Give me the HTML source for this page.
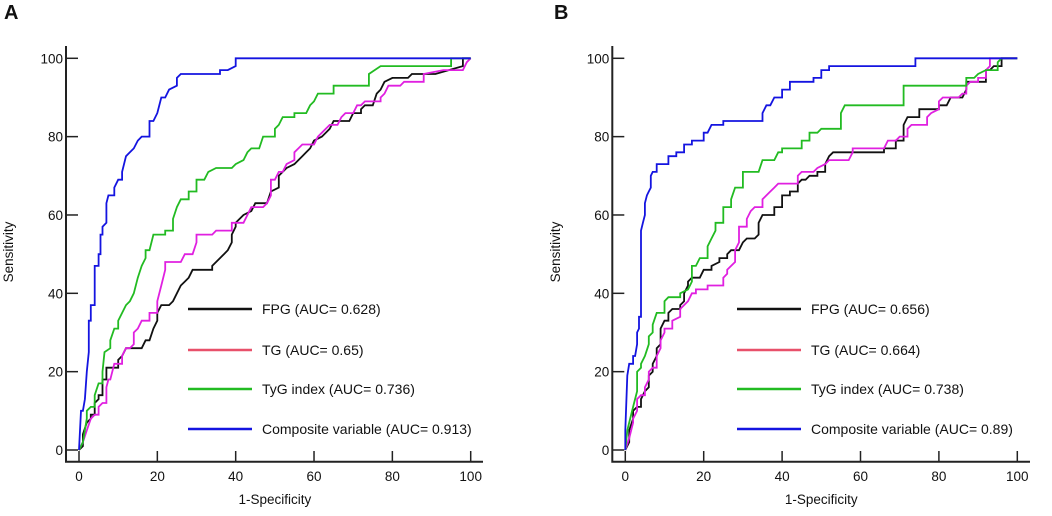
<!DOCTYPE html>
<html><head><meta charset="utf-8"><style>
body{margin:0;background:#fff;}
svg text{font-family:"Liberation Sans",Arial,sans-serif;fill:#111;}
</style></head><body>
<svg id="s" width="1052" height="511" viewBox="0 0 1052 511"></svg>
<script>
const xTicks=[0,20,40,60,80,100];
const yTicks=[0,20,40,60,80,100];
const seriesNames=["FPG","TG","TyG index","Composite variable"];
const aucA=["0.628","0.65","0.736","0.913"];
const aucB=["0.656","0.664","0.738","0.89"];
const colors=["#111111","#e020e0","#22bb22","#1414e0"];
const legendColors=["#111111","#e8506a","#22bb22","#1414e0"];
const fpgA=[0,0,1,1,1,4,2,7,3,8,3,9,4,9,4,12,5,13,5,14,6,14,6,18,7,18,7,21,10,21,10,23,11,24,12,26,16,26,17,28,18,28,19,31,20,33,20,35,21,37,23,37,24,38,25,40,26,42,27,43,28,44,29,46,34,46,34,47,35,48,36,49,37,50,38,51,39,53,39,55,40,57,40,58,41,59,42,60,44,61,45,63,48,63,49,66,51,67,51,70,52,71,53,72,55,73,57,75,58,76,59,77,60,79,62,80,63,81,64,82,65,84,69,84,70,86,72,86,72,87,73,88,75,88,76,91,77,92,78,94,80,95,84,95,85,96,91,96,98,98,98,100,100,100];
const tgA=[0,0,1,2,2,5,3,8,4,9,5,9,5,11,6,12,7,12,7,16,7.5,18,8,18,9,22,11,22,11,24,12,26,13,26,14,27,14,30,15,31,16,33,18,33,18,35,20,35,20,38,21,42,22,46,22,48,26,48,27,50,29,50,30,53,30,55,34,55,35,56,39,56,39,58,42,58,43,60,44,62,47,62,48,63,49,65,49,69,50,69,51,71,52,71,53,73,55,74,55,76,56,77,57,78,60,78,61,80,62,81,63,82,64,83,66,83,67,85,68,86,70,86,71,88,72,88,73,89,77,89,77,90,78,91,79,93,82,93,83,94,88,94,88,96,93,97,98,97,99,99,100,100];
const tygA=[0,0,1,2,2,8,2,10,3,11,4,11,4,14,5,17,6,17,6,20,6.5,25,8,26,8,28,9,31,10,31,10,33,12,37,13,38,14,40,15,44,16,47,17,49,17,51,18,51,19,55,22,55,22,56,24,56,24,59,25,62,26,64,28,64,28,66,30,66,30,69,32,69,33,71,35,72,39,72,40,73,42,74,43,76,44,77,46,77,47,80,50,80,50,82,51,83,52,85,55,85,55,86,58,86,59,88,60,89,61,91,65,91,65,93,74,93,74,96,77,98,95,98,95,100,100,100];
const compA=[0,0,0.5,10,1,10,1.5,13,2,20,2.5,25,2.5,33,3,33,3,37,4,37,4,41,4,47,5,47,5,50,5.5,50,5.5,55,6,55,6,57,7,58,7,63,7.5,65,9,65,9,67,10,69,11,69,11,71,12,75,13,76,14,77,15,79,16,80,18,80,18,84,19,84,20,86,21,90,22,90,23,92,25,93,25,95,26,96,36,96,36,97,38,97,40,98,40,100,100,100];
const fpgB=[0,0,1,2,1,5,2,8,2,10,3,11,4,11,4,13,5,15,6,16,6,19,7,20,7,22,8,24,8,26,9,27,9,31,10,33,11,33,11,35,12,36,14,36,14,37,15,38,15,40,16,42,16,43,17,44,19,44,20,46,22,46,22,47,24,48,24,49,26,49,26,50,27,51,29,51,30,53,31,54,33,54,34,55,34,58,35,60,38,60,38,62,40,62,40,65,42,65,42,66,44,66,44,68,45,69,46,69,47,70,49,70,49,71,51,71,51,73,52,75,53,76,66,76,66,77,69,77,69,79,71,79,71,83,72,85,75,85,75,87,80,87,80,88,82,88,83,90,86,90,87,92,87,94,92,94,92,97,93,97,94,98,96,98,96,100,100,100];
const tgB=[0,0,1,3,2,7,2,8,3,10,3,13,4,14,5,14,5,16,6,18,6,20,7,21,8,21,8,24,9,26,9,28,10,30,10,31,12,31,12,33,14,34,14,36,15,37,16,38,17,40,18,40,18,41,21,41,21,42,25,42,25,44,26,45,26,46,27,47,28,48,28,51,29,53,29,57,31,57,31,59,32,61,33,62,35,62,35,64,36,65,37,66,38,67,39,68,44,68,44,70,45,71,48,71,49,72,51,73,52,74,57,74,58,76,58,77,66,77,67,79,69,79,70,80,72,80,72,82,73,83,77,83,77,85,78,86,80,87,80,89,81,90,85,90,86,91,87,91,87,93,88,94,90,94,90,95,92,95,92,97,93,98,93,100,100,100];
const tygB=[0,0,0.5,5,1,7,2,11,3,15,3,20,4,21,4,22,5,24,6,27,6,29,7,30,7,32,8,35,10,35,10,38,11,39,14,39,14,40,16,41,17,43,17,47,18,47,19,49,21,49,21,52,22,54,23,56,23,58,25,58,25,62,27,62,27,64,28,67,30,67,30,71,34,71,35,74,38,74,39,76,40,76,40,77,45,77,45,79,47,79,47,81,49,81,50,82,55,82,55,86,56,88,71,88,71,93,87,93,87,95,89,95,90,96,92,97,95,97,95,99,96,100,100,100];
const compB=[0,0,0,5,0.5,19,1,22,2,22,2,24,2.5,24,3,27,3,30,3.5,31,3.5,34,4,34,4,40,4,47,4,56,4.5,58,5,60,5,63,5.5,65,6,66,6.5,67,6.5,70,7,71,8,71,8,73,11,73,11,75,13,75,13,76,15,76,15,78,17,78,17,79,20,79,20,81,21,81,22,83,25,83,25,84,35,84,35,86,36,88,37,88,38,90,40,90,40,92,42,92,42,94,48,94,48,95,50,95,50,97,52,97,52,98,74,98,74,100,100,100];

const NS="http://www.w3.org/2000/svg";
const svg=document.getElementById('s');
function mk(tag,attrs,parent){const e=document.createElementNS(NS,tag);for(const k in attrs)e.setAttribute(k,attrs[k]);(parent||svg).appendChild(e);return e;}

function panel(cfg){
  const g=mk('g',{});
  
  
  const sx=v=>cfg.x0+(cfg.x1-cfg.x0)*v/100;
  const sy=v=>450-(450-58.3)*v/100;
  const t=mk('text',{x:cfg.lx,y:19,'font-size':20,'font-weight':'bold'},g);t.textContent=cfg.label;
  
  const ax=mk('path',{d:`M${cfg.ax} 46 V461.7 H${cfg.axr}`,stroke:'#222','stroke-width':2,fill:'none'},g);
  
  yTicks.forEach(v=>{
    const l=mk('line',{x1:cfg.ax,x2:cfg.ax+12,y1:sy(v),y2:sy(v),stroke:'#222','stroke-width':1.5},g);
    
    const tx=mk('text',{x:cfg.ax-3,y:sy(v)+5,'font-size':13.5,'text-anchor':'end'},g);tx.textContent=v;
    
  });
  xTicks.forEach(v=>{
    const l=mk('line',{x1:sx(v),x2:sx(v),y1:461.7,y2:451,stroke:'#222','stroke-width':1.5},g);
    
    const tx=mk('text',{x:sx(v),y:481,'font-size':13.5,'text-anchor':'middle'},g);tx.textContent=v;
    
  });
  const xt=mk('text',{x:(sx(0)+sx(100))/2,y:504,'font-size':13.5,'text-anchor':'middle'},g);xt.textContent='1-Specificity';
  
  const yt=mk('text',{x:0,y:0,'font-size':13.5,'text-anchor':'middle',transform:`translate(${cfg.yx},252) rotate(-90)`},g);yt.textContent='Sensitivity';
  
  cfg.series.forEach((arr,i)=>{
    let d='';
    for(let k=0;k<arr.length;k+=2){d+=(k?'L':'M')+sx(arr[k]).toFixed(1)+' '+sy(arr[k+1]).toFixed(1);}
    const p=mk('path',{d,stroke:colors[i],'stroke-width':1.8,fill:'none'},g);
    
    
  });
  const ly=[309,350,389,429];
  cfg.auc.forEach((a,i)=>{
    const l=mk('line',{x1:cfg.legx,x2:cfg.legx+64,y1:ly[i],y2:ly[i],stroke:legendColors[i],'stroke-width':2.5},g);
    
    const tx=mk('text',{x:cfg.legx+74,y:ly[i]+5,'font-size':14},g);tx.textContent=seriesNames[i]+' (AUC= '+a+')';
    
  });
}
panel({label:'A',lx:4,x0:79,x1:470.7,ax:66,axr:483,yx:13,legx:188,auc:aucA,series:[fpgA,tgA,tygA,compA]});
panel({label:'B',lx:554,x0:625.3,x1:1017.3,ax:612.3,axr:1030,yx:560,legx:737,auc:aucB,series:[fpgB,tgB,tygB,compB]});
</script>
</body></html>
